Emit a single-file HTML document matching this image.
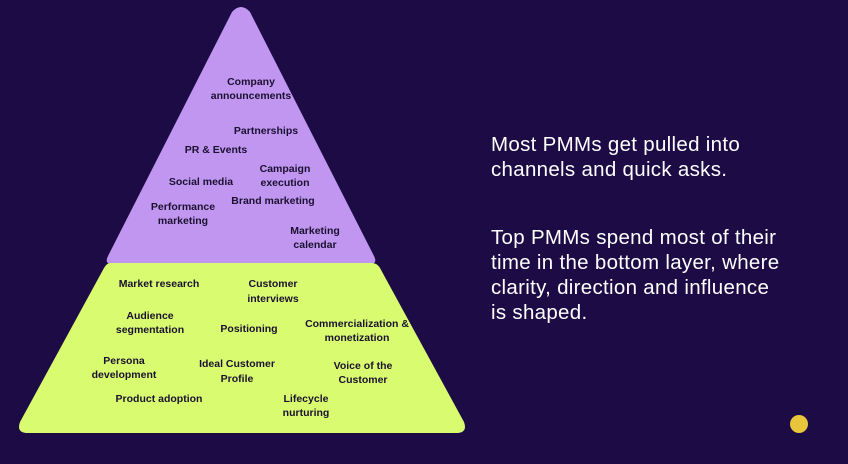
<!DOCTYPE html>
<html><head><meta charset="utf-8"><style>
html,body{margin:0;padding:0;background:#1d0b45;}
body{width:848px;height:464px;overflow:hidden;position:relative;font-family:"Liberation Sans",sans-serif;}
.r{position:absolute;left:491px;color:#fff;font-size:20.5px;line-height:25px;letter-spacing:0.3px;}
</style></head><body>
<svg width="848" height="464" style="position:absolute;left:0;top:0">
<path d="M232,12 Q241,2 250,12 L374,256 Q378,264 370,264 L112,264 Q104,264 108,256 Z" fill="#c096f0"/>
<path d="M110,263 L372,263 Q377,263 380,268 L464,422 Q468,433 456,433 L28,433 Q16,433 20,422 L104,268 Q107,263 110,263 Z" fill="#d9fb70"/>
<g font-family="Liberation Sans, sans-serif" font-size="10.5" font-weight="bold" fill="#1a1030" text-anchor="middle">
<text x="251" y="85">Company</text><text x="251" y="99">announcements</text>
<text x="266" y="134">Partnerships</text>
<text x="216" y="153">PR &amp; Events</text>
<text x="285" y="172">Campaign</text><text x="285" y="186">execution</text>
<text x="201" y="185">Social media</text>
<text x="273" y="204">Brand marketing</text>
<text x="183" y="210">Performance</text><text x="183" y="224">marketing</text>
<text x="315" y="234">Marketing</text><text x="315" y="248">calendar</text>
<text x="159" y="287">Market research</text>
<text x="273" y="287">Customer</text><text x="273" y="302">interviews</text>
<text x="150" y="319">Audience</text><text x="150" y="333">segmentation</text>
<text x="249" y="332">Positioning</text>
<text x="357" y="327">Commercialization &amp;</text><text x="357" y="341">monetization</text>
<text x="124" y="364">Persona</text><text x="124" y="378">development</text>
<text x="237" y="367">Ideal Customer</text><text x="237" y="382">Profile</text>
<text x="363" y="369">Voice of the</text><text x="363" y="383">Customer</text>
<text x="159" y="402">Product adoption</text>
<text x="306" y="402">Lifecycle</text><text x="306" y="416">nurturing</text>
</g>
<circle cx="799" cy="424" r="9" fill="#e8c53a"/>
</svg>
<div class="r" style="top:132px">Most PMMs get pulled into<br>channels and quick asks.</div>
<div class="r" style="top:225px">Top PMMs spend most of their<br>time in the bottom layer, where<br>clarity, direction and influence<br>is shaped.</div>
</body></html>
